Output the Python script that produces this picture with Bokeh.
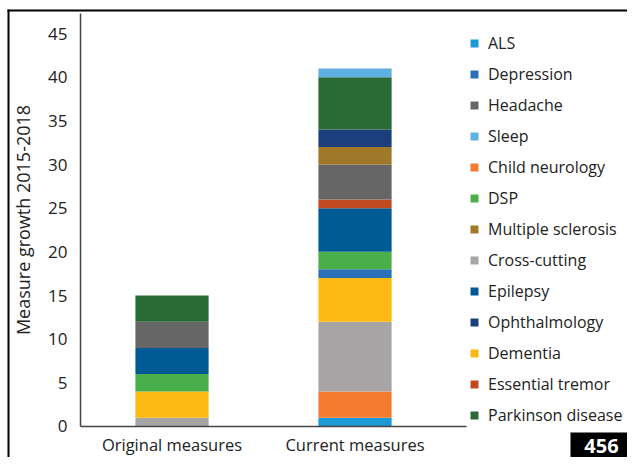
from bokeh.plotting import figure
from bokeh.models import (Range1d, FixedTicker, Legend, LegendItem, ColumnDataSource,
                          Label, BoxAnnotation)
from bokeh.embed import file_html
from bokeh.resources import INLINE

categories = ["Original measures", "Current measures"]
cat_pos = [0.5, 1.5]

# stacking order (bottom -> top)
series = ["ALS", "Child neurology", "Cross-cutting", "Dementia", "Depression", "DSP",
          "Epilepsy", "Essential tremor", "Headache", "Multiple sclerosis",
          "Ophthalmology", "Parkinson disease", "Sleep"]

ALS = [0, 1]
Child_neurology = [0, 3]
Cross_cutting = [1, 8]
Dementia = [3, 5]
Depression = [0, 1]
DSP = [2, 2]
Epilepsy = [3, 5]
Essential_tremor = [0, 1]
Headache = [3, 4]
Multiple_sclerosis = [0, 2]
Ophthalmology = [0, 2]
Parkinson_disease = [3, 6]
Sleep = [0, 1]

colors = {
    "ALS": "#1d9ad6",
    "Child neurology": "#f47c30",
    "Cross-cutting": "#a7a5a6",
    "Dementia": "#fdb913",
    "Depression": "#2a70b8",
    "DSP": "#4aae4a",
    "Epilepsy": "#005b94",
    "Essential tremor": "#c14a22",
    "Headache": "#666666",
    "Multiple sclerosis": "#a1772a",
    "Ophthalmology": "#1b3f7c",
    "Parkinson disease": "#2a6a37",
    "Sleep": "#5eb0e0",
}

legend_order = ["ALS", "Depression", "Headache", "Sleep", "Child neurology", "DSP",
                "Multiple sclerosis", "Cross-cutting", "Epilepsy", "Ophthalmology",
                "Dementia", "Essential tremor", "Parkinson disease"]

y_ticks = [0, 5, 10, 15, 20, 25, 30, 35, 40, 45]
page_number = "456"

data = {
    "x": cat_pos,
    "ALS": ALS, "Child neurology": Child_neurology, "Cross-cutting": Cross_cutting,
    "Dementia": Dementia, "Depression": Depression, "DSP": DSP, "Epilepsy": Epilepsy,
    "Essential tremor": Essential_tremor, "Headache": Headache,
    "Multiple sclerosis": Multiple_sclerosis, "Ophthalmology": Ophthalmology,
    "Parkinson disease": Parkinson_disease, "Sleep": Sleep,
}
source = ColumnDataSource(data)

FONT = "Open Sans"
W, H = 627, 457

p = figure(width=W, height=H, output_backend="svg", toolbar_location=None,
           x_range=Range1d(-0.4372, 2.989), y_range=Range1d(-3.55, 48.78),
           min_border=0)

renderers = p.vbar_stack(series, x="x", width=0.4, source=source,
                         color=[colors[s] for s in series], line_color=None)
rmap = dict(zip(series, renderers))

p.xgrid.visible = False
p.ygrid.visible = False
p.outline_line_color = None

p.xaxis.fixed_location = 0
p.yaxis.fixed_location = 0
p.xaxis.bounds = (0, 2.11)
p.yaxis.bounds = (0, 47.3)

p.xaxis.ticker = FixedTicker(ticks=cat_pos)
p.xaxis.major_label_overrides = {pos: c for pos, c in zip(cat_pos, categories)}
p.yaxis.ticker = FixedTicker(ticks=y_ticks)

for ax in (p.xaxis, p.yaxis):
    ax.major_tick_line_color = None
    ax.minor_tick_line_color = None
    ax.axis_line_color = "#444444"
    ax.axis_line_width = 1.5
    ax.major_label_text_font = FONT
    ax.major_label_text_font_size = "17px"
    ax.major_label_text_color = "#222222"

p.xaxis.major_label_text_font_size = "16.5px"
p.xaxis.major_label_standoff = 1
p.yaxis.major_label_standoff = 7
p.yaxis.axis_label = "Measure growth 2015-2018"
p.yaxis.axis_label_text_font = FONT
p.yaxis.axis_label_text_font_size = "18px"
p.yaxis.axis_label_text_font_style = "normal"
p.yaxis.axis_label_text_color = "#222222"
p.yaxis.axis_label_standoff = 10

items = [LegendItem(label=s, renderers=[rmap[s]]) for s in legend_order]
legend = Legend(items=items, location=(469, 31), padding=0, margin=0,
                spacing=8, label_height=23, glyph_height=10, glyph_width=10,
                label_standoff=9, border_line_color=None, background_fill_alpha=0,
                label_text_font=FONT, label_text_font_size="16px",
                label_text_color="#222222")
p.add_layout(legend, "center")

# frame border lines (top and left)
for (l, r, t, b) in ((7, W + 10, H - 9, H - 11), (7, 9, H - 9, -10)):
    p.add_layout(BoxAnnotation(left=l, right=r, top=t, bottom=b,
                               left_units="screen", right_units="screen",
                               top_units="screen", bottom_units="screen",
                               fill_color="black", fill_alpha=1, line_color=None))

# page-number badge
p.add_layout(BoxAnnotation(left=570, right=W + 10, top=25, bottom=-10,
                           left_units="screen", right_units="screen",
                           top_units="screen", bottom_units="screen",
                           fill_color="black", fill_alpha=1, line_color=None))
p.add_layout(Label(x=601, y=12, x_units="screen", y_units="screen", text=page_number,
                   text_font=FONT, text_font_size="20px", text_font_style="bold",
                   text_color="white", text_align="center", text_baseline="middle"))

open("out.html", "w").write(file_html(p, INLINE))
